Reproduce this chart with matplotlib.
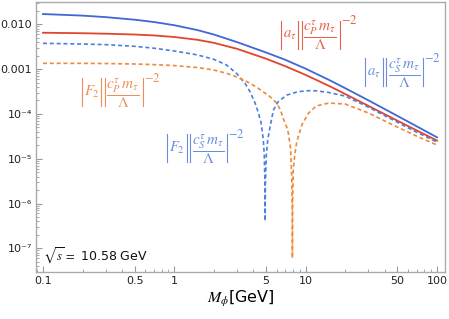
#python 3
# a_tau and F2 contributions vs scalar mass (log-log)

import numpy as np
import matplotlib
matplotlib.use('Agg')
import matplotlib.pyplot as plt
from matplotlib.lines import Line2D
from matplotlib.ticker import FixedLocator, NullFormatter

# values
m_grid = [0.1, 0.2, 0.3, 0.5, 0.7, 1, 1.5, 2, 3, 5, 7, 10, 15, 20, 30, 50, 70, 100]
a_S = [0.01698, 0.01564, 0.01448, 0.01267, 0.01125, 0.00955, 0.00744, 0.00592, 0.00401,
       0.002347, 0.001613, 1.021e-3, 5.77e-4, 3.75e-4, 2.011e-4, 9.02e-5, 5.29e-5, 3.0e-5]
a_P = [0.00649, 0.00633, 0.00618, 0.00592, 0.00565, 0.00521, 0.00451, 0.00386, 0.00284,
       0.001706, 0.001161, 7.42e-4, 4.24e-4, 2.78e-4, 1.516e-4, 7.05e-5, 4.28e-5, 2.54e-5]

m_F2S = [0.1, 0.2, 0.3, 0.5, 0.7, 1, 1.5, 2, 2.5, 3, 3.5, 3.78, 4.18, 4.57, 4.76,
         4.84, 4.89, 4.91, 4.94, 5.015, 5.14, 5.36, 5.68, 6.17, 7.2, 8.7, 10.4, 12,
         15, 20, 30, 50, 70, 100]
F2_S = [0.00377, 0.00363, 0.00352, 0.00323, 0.00293, 0.00254, 0.002075, 0.001655,
        0.001235, 7.85e-4, 4.55e-4, 3.08e-4, 1.58e-4, 6.6e-5, 2.61e-5, 1.21e-5,
        3.35e-6, 4.07e-7, 3.35e-6, 1.21e-5, 2.61e-5, 5.18e-5, 1.22e-4, 1.87e-4,
        2.64e-4, 3.13e-4, 3.30e-4, 3.28e-4, 3.01e-4, 2.5e-4, 1.42e-4, 6.5e-5,
        3.9e-5, 2.36e-5]

m_F2P = [0.1, 0.2, 0.3, 0.5, 0.7, 1, 1.5, 2, 2.5, 3, 3.5, 4.22, 5.36, 6.03, 6.43,
         6.74, 7.13, 7.38, 7.67, 7.82, 7.91, 7.92, 7.96, 8.05, 8.25, 8.55, 9.34,
         10.49, 12, 15, 20, 30, 50, 70, 100]
F2_P = [1.347e-3, 1.347e-3, 1.333e-3, 1.3e-3, 1.26e-3, 1.2e-3, 1.085e-3, 9.55e-4,
        8.06e-4, 6.66e-4, 5.42e-4, 3.98e-4, 2.42e-4, 1.73e-4, 1.22e-4, 7.97e-5,
        5.37e-5, 3.75e-5, 1.73e-5, 4.33e-6, 7.16e-7, 6.07e-8, 1.2e-6, 5.6e-6,
        1.21e-5, 2.36e-5, 5.65e-5, 1.03e-4, 1.5e-4, 1.75e-4, 1.66e-4, 1.05e-4,
        5.07e-5, 3.19e-5, 2.02e-5]

x_ticks = [0.1, 0.5, 1, 5, 10, 50, 100]
x_labels = ['0.1', '0.5', '1', '5', '10', '50', '100']
y_ticks = [1e-2, 1e-3, 1e-4, 1e-5, 1e-6, 1e-7]
y_labels = ['0.010', '0.001', '10\u207b\u2074', '10\u207b\u2075', '10\u207b\u2076', '10\u207b\u2077']

blue = '#3f67d6'
red = '#e2452b'
orange = '#ee8a3a'
blue2 = '#4a7fdd'

plt.rcParams['mathtext.fontset'] = 'stix'
plt.rcParams['font.family'] = 'DejaVu Sans'

W, H = 449, 319
fig = plt.figure(figsize=(W/100, H/100), dpi=100)
ax = fig.add_axes([36/W, 1-272/H, 409/W, 270/H])

ax.plot(m_grid, a_S, color=blue, lw=1.3)
ax.plot(m_grid, a_P, color=red, lw=1.3)
ax.plot(m_F2S, F2_S, color=blue2, lw=1.2, ls=(0, (2.4, 1.7)))
ax.plot(m_F2P, F2_P, color=orange, lw=1.2, ls=(0, (2.4, 1.7)))

ax.set_xscale('log')
ax.set_yscale('log')
ax.set_xlim(0.0885, 115)
ax.set_ylim(2.96e-8, 0.0315)

ax.xaxis.set_major_locator(FixedLocator(x_ticks))
ax.set_xticklabels(x_labels)
minor_x = [k*10.0**e for e in range(-2, 3) for k in range(1, 10)]
minor_x = [v for v in minor_x if v not in x_ticks]
ax.xaxis.set_minor_locator(FixedLocator(minor_x))
ax.xaxis.set_minor_formatter(NullFormatter())
ax.yaxis.set_major_locator(FixedLocator(y_ticks))
ax.set_yticklabels(y_labels)
minor_y = [k*10.0**e for e in range(-9, -1) for k in range(2, 10)]
ax.yaxis.set_minor_locator(FixedLocator(minor_y))
ax.yaxis.set_minor_formatter(NullFormatter())

ax.tick_params(which='both', direction='in', color='#999999', labelsize=8, labelcolor='#222222',
               top=False, right=False)
ax.tick_params(which='major', length=4, width=0.8, pad=3)
ax.tick_params(which='minor', length=2, width=0.6)
for s in ax.spines.values():
    s.set_color('#aaaaaa')
    s.set_linewidth(1.0)

ax.set_xlabel(r'$M_\phi$[GeV]', fontsize=11.5, labelpad=2)

renderer = fig.canvas.get_renderer()

def bar(x, yc, color, h=14):
    fig.add_artist(Line2D([x, x], [yc-h, yc+h], transform=None, color=color, lw=0.8))

def piece(x, yc, s, color, size=10.5):
    t = fig.text(x, yc, s, transform=None, color=color, fontsize=size, ha='left', va='center')
    return t.get_window_extent(renderer).x1

def coupling_label(x0, ytop, coef, sub, color):
    '''
    |coef| |c m / Lambda|^-2 with the left bar at pixel x0, centre at ytop (from top)
    '''
    yc = H - ytop
    bar(x0, yc, color)
    x = piece(x0 + 2, yc, '$' + coef + '$', color)
    bar(x + 2, yc, color)
    bar(x + 5.5, yc, color)
    x = piece(x + 7, yc - 1, r'$\dfrac{c_' + sub + r'^\tau\,m_\tau}{\Lambda}$', color, size=11)
    bar(x + 2.5, yc, color)
    piece(x + 3.5, yc + 14, r'$-2$', color, size=9)

coupling_label(280.7, 34.5, r'a_\tau', 'P', '#e6614a')
coupling_label(365, 72, r'a_\tau', 'S', '#6a8ddd')
coupling_label(81.5, 92, r'F_2', 'P', '#f08c5a')
coupling_label(166.7, 148.3, r'F_2', 'S', '#6a8ddd')

ax.text(0.018, 0.06, r'$\sqrt{s}\,=$ 10.58 GeV', transform=ax.transAxes,
        fontsize=9, ha='left', va='center', color='#111111')

plt.savefig('out.png', dpi=100)
